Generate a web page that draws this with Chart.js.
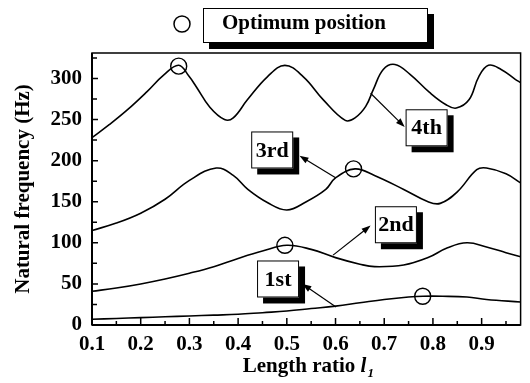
<!DOCTYPE html>
<html><head><meta charset="utf-8">
<script src="https://cdn.jsdelivr.net/npm/chart.js@4/dist/chart.umd.min.js"></script>
<style>html,body{margin:0;padding:0;background:#fff;overflow:hidden}canvas{display:block}</style>
</head><body>
<canvas id="c" width="530" height="383"></canvas>
<script>
// ---- data ----
const xTickValues = [0.1,0.2,0.3,0.4,0.5,0.6,0.7,0.8,0.9];
const xMinorTicks = [0.15,0.25,0.35,0.45,0.55,0.65,0.75,0.85,0.95];
const yTickValues = [0,50,100,150,200,250,300];
const yMinorTicks = [25,75,125,175,225,275,325];

const mode1L = [0.1,0.15,0.2,0.25,0.3,0.35,0.4,0.45,0.5,0.55,0.6,0.65,0.7,0.75,0.78,0.82,0.87,0.91,0.98];
const mode1F = [7,8,9,10,11,12,13,15,17,20,23,27,31,34,35,35,34,31,28];

const mode2L = [0.1,0.15,0.2,0.25,0.3,0.35,0.4,0.45,0.5,0.55,0.6,0.65,0.68,0.74,0.79,0.83,0.87,0.91,0.95,0.98];
const mode2F = [41,45,50,56,63,71,81,90,97,92,82,74,71,73,82,94,100,95,88,83];

const mode3L = [0.1,0.15,0.2,0.25,0.3,0.355,0.39,0.42,0.46,0.5,0.54,0.58,0.6,0.64,0.68,0.74,0.79,0.815,0.85,0.89,0.91,0.95,0.98];
const mode3F = [115,124,136,153,176,191,182,165,149,140,150,165,179,190,182,165,150,148,162,189,191,184,173];

const mode4L = [0.1,0.136,0.173,0.213,0.247,0.278,0.3,0.314,0.342,0.372,0.39,0.419,0.46,0.496,0.534,0.575,0.62,0.64,0.662,0.678,0.698,0.722,0.753,0.793,0.827,0.848,0.874,0.894,0.914,0.94,0.969,0.98];
const mode4F = [228,244,262,284,304,316,302,290,265,250,252,274,302,316,302,274,249,252,266,287,311,317,305,283,268,264,274,302,316,311,299,295];

const optL = [0.278,0.637,0.496,0.779];
const optF = [315,190,97,35];

const modeNames = ['1st','2nd','3rd','4th'];
// label boxes: anchor (centre) and arrow in data units
const labelBoxes = [
  {text:'1st', cx:0.482, cy:56,  ax1:0.601, ay1:22,  ax2:0.532, ay2:50},
  {text:'2nd', cx:0.724, cy:122, ax1:0.595, ay1:85,  ax2:0.672, ay2:121},
  {text:'3rd', cx:0.47,  cy:213, ax1:0.601, ay1:179, ax2:0.526, ay2:206},
  {text:'4th', cx:0.787, cy:240, ax1:0.672, ay1:282, ax2:0.742, ay2:241}
];

const FONT = '"Liberation Serif","Times New Roman",serif';
const pts = (L,F) => L.map((v,i)=>({x:v,y:F[i]}));

function shadowBox(ctx, x, y, w, h, off){
  ctx.fillStyle='#000';
  ctx.fillRect(x+off, y+off, w, h);
  ctx.fillStyle='#fff';
  ctx.fillRect(x, y, w, h);
  ctx.strokeStyle='#000'; ctx.lineWidth=1;
  ctx.strokeRect(x+0.5, y+0.5, w-1, h-1);
}
function arrow(ctx, x1,y1,x2,y2){
  ctx.strokeStyle='#000'; ctx.fillStyle='#000'; ctx.lineWidth=1.2;
  const ang=Math.atan2(y2-y1,x2-x1), L=9, W=3.2;
  ctx.beginPath(); ctx.moveTo(x1,y1); ctx.lineTo(x2-Math.cos(ang)*L*0.8,y2-Math.sin(ang)*L*0.8); ctx.stroke();
  ctx.beginPath();
  ctx.moveTo(x2,y2);
  ctx.lineTo(x2-Math.cos(ang)*L+Math.sin(ang)*W, y2-Math.sin(ang)*L-Math.cos(ang)*W);
  ctx.lineTo(x2-Math.cos(ang)*L-Math.sin(ang)*W, y2-Math.sin(ang)*L+Math.cos(ang)*W);
  ctx.closePath(); ctx.fill();
}

const overlay = {
  id:'overlay',
  afterDraw(chart){
    const {ctx, chartArea:a, scales:{x,y}} = chart;
    ctx.save();
    // frame
    ctx.strokeStyle='#000'; ctx.lineWidth=1.5;
    ctx.strokeRect(a.left, a.top, a.right-a.left, a.bottom-a.top);
    ctx.lineWidth=2;
    ctx.beginPath(); ctx.moveTo(a.left,a.bottom); ctx.lineTo(a.right,a.bottom);
    ctx.moveTo(a.left,a.top); ctx.lineTo(a.left,a.bottom); ctx.stroke();
    // inward ticks
    ctx.lineWidth=1.5; ctx.beginPath();
    xTickValues.forEach(v=>{const p=x.getPixelForValue(v); ctx.moveTo(p,a.bottom); ctx.lineTo(p,a.bottom-7);});
    xMinorTicks.forEach(v=>{if(v>x.max)return; const p=x.getPixelForValue(v); ctx.moveTo(p,a.bottom); ctx.lineTo(p,a.bottom-4);});
    yTickValues.forEach(v=>{const p=y.getPixelForValue(v); ctx.moveTo(a.left,p); ctx.lineTo(a.left+6,p);});
    yMinorTicks.forEach(v=>{if(v>y.max)return; const p=y.getPixelForValue(v); ctx.moveTo(a.left,p); ctx.lineTo(a.left+5,p);});
    ctx.stroke();
    // label boxes + arrows
    labelBoxes.forEach(b=>{
      arrow(ctx, x.getPixelForValue(b.ax1), y.getPixelForValue(b.ay1), x.getPixelForValue(b.ax2), y.getPixelForValue(b.ay2));
      const cx=x.getPixelForValue(b.cx), cy=y.getPixelForValue(b.cy);
      const w=42, h=37;
      shadowBox(ctx, cx-w/2, cy-h/2, w, h, 6);
      ctx.fillStyle='#000'; ctx.font='bold 22px '+FONT;
      ctx.textAlign='center'; ctx.textBaseline='middle';
      ctx.fillText(b.text, cx, cy+1);
    });
    // legend
    ctx.strokeStyle='#000'; ctx.lineWidth=1.5;
    ctx.beginPath(); ctx.arc(182,24,8,0,Math.PI*2); ctx.stroke();
    shadowBox(ctx, 203, 8, 225, 35, 6);
    ctx.fillStyle='#000'; ctx.font='bold 21px '+FONT;
    ctx.textAlign='center'; ctx.textBaseline='middle';
    ctx.fillText('Optimum position', 304, 24);
    // axis titles
    ctx.save();
    ctx.translate(24, (a.top+a.bottom)/2);
    ctx.rotate(-Math.PI/2);
    ctx.font='bold 21px '+FONT; ctx.textAlign='center'; ctx.textBaseline='middle';
    ctx.fillText('Natural frequency (Hz)', 0, 0);
    ctx.restore();
    ctx.font='bold 21px '+FONT; ctx.textAlign='left'; ctx.textBaseline='alphabetic';
    const t1='Length ratio ';
    const w1=ctx.measureText(t1).width;
    ctx.font='italic bold 21px '+FONT;
    const w2=ctx.measureText('l').width;
    ctx.font='italic bold 13px '+FONT;
    const w3=ctx.measureText('1').width;
    const total=w1+w2+w3+1, sx=(a.left+a.right)/2+2-total/2, by=372;
    ctx.font='bold 21px '+FONT; ctx.fillText(t1, sx, by);
    ctx.font='italic bold 21px '+FONT; ctx.fillText('l', sx+w1, by);
    ctx.font='italic bold 13px '+FONT; ctx.fillText('1', sx+w1+w2+1, by+5);
    ctx.restore();
  }
};

const lineDs = (L,F,name)=>({label:name, data:pts(L,F), borderColor:'#000', borderWidth:1.6,
  pointRadius:0, fill:false, tension:0.4, showLine:true});

new Chart(document.getElementById('c'), {
  type:'line',
  data:{datasets:[
    lineDs(mode1L,mode1F,modeNames[0]),
    lineDs(mode2L,mode2F,modeNames[1]),
    lineDs(mode3L,mode3F,modeNames[2]),
    lineDs(mode4L,mode4F,modeNames[3]),
    {label:'Optimum position', data:pts(optL,optF), showLine:false, pointRadius:8, pointHoverRadius:8,
     pointBorderWidth:1.4, pointBorderColor:'#000', pointBackgroundColor:'rgba(0,0,0,0)', borderColor:'#000', clip:false}
  ]},
  options:{
    responsive:false, devicePixelRatio:1, animation:false,
    layout:{padding:{left:0,right:2,top:53,bottom:0}},
    plugins:{legend:{display:false}, tooltip:{enabled:false}},
    scales:{
      x:{type:'linear', min:0.1, max:0.98,
        afterBuildTicks:s=>{s.ticks=xTickValues.map(v=>({value:v}));},
        afterFit:s=>{s.height=58;},
        grid:{display:false, drawTicks:false}, border:{display:false},
        ticks:{padding:7, color:'#000', font:{family:FONT, size:21, weight:'bold'}, maxRotation:0,
          callback:v=>v.toFixed(1)}},
      y:{type:'linear', min:0, max:331,
        afterBuildTicks:s=>{s.ticks=yTickValues.map(v=>({value:v}));},
        afterFit:s=>{s.width=92;},
        grid:{display:false, drawTicks:false}, border:{display:false},
        ticks:{padding:10, color:'#000', font:{family:FONT, size:21, weight:'bold'}}}
    }
  },
  plugins:[overlay]
});
</script>
</body></html>
